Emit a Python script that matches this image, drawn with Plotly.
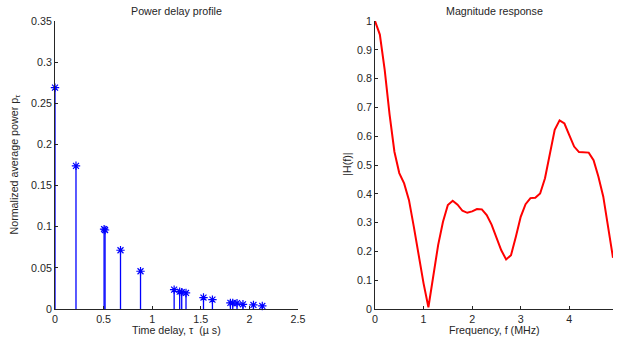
import plotly.graph_objects as go

# ---- data: power delay profile ----
delays_us = [0.0, 0.216, 0.505, 0.515, 0.674, 0.880, 1.226, 1.283, 1.304, 1.348,
             1.528, 1.620, 1.805, 1.829, 1.873, 1.934, 2.042, 2.133]
powers = [0.269, 0.174, 0.097, 0.096, 0.0714, 0.0459, 0.0236, 0.021, 0.0205, 0.0195,
          0.0139, 0.0114, 0.0075, 0.0073, 0.0071, 0.0057, 0.0049, 0.0037]

# ---- data: magnitude response ----
freq_mhz = [0.0, 0.1, 0.2, 0.3, 0.4, 0.5, 0.6, 0.7, 0.8, 0.9,
            1.0, 1.1, 1.2, 1.3, 1.4, 1.5, 1.6, 1.7, 1.8, 1.9,
            2.0, 2.1, 2.2, 2.3, 2.4, 2.5, 2.6, 2.7, 2.8, 2.9,
            3.0, 3.1, 3.2, 3.3, 3.4, 3.5, 3.6, 3.7, 3.8, 3.9,
            4.0, 4.1, 4.2, 4.3, 4.4, 4.5, 4.6, 4.7, 4.8, 4.9]
magnitude = [1.0, 0.953, 0.83, 0.676, 0.546, 0.472, 0.436, 0.378, 0.285, 0.181,
             0.089, 0.006, 0.122, 0.222, 0.303, 0.361, 0.376, 0.362, 0.341, 0.334,
             0.339, 0.347, 0.346, 0.326, 0.293, 0.25, 0.204, 0.172, 0.187, 0.251,
             0.32, 0.364, 0.385, 0.386, 0.401, 0.454, 0.541, 0.622, 0.655, 0.644,
             0.604, 0.564, 0.545, 0.545, 0.543, 0.517, 0.459, 0.39, 0.291, 0.178]

left_yticks = [0, 0.05, 0.1, 0.15, 0.2, 0.25, 0.3, 0.35]
left_yticktext = ["0", "0.05", "0.1", "0.15", "0.2", "0.25", "0.3", "0.35"]
left_xticks = [0, 0.5, 1, 1.5, 2, 2.5]
left_xticktext = ["0", "0.5", "1", "1.5", "2", "2.5"]
right_yticks = [0, 0.1, 0.2, 0.3, 0.4, 0.5, 0.6, 0.7, 0.8, 0.9, 1]
right_yticktext = ["0", "0.1", "0.2", "0.3", "0.4", "0.5", "0.6", "0.7", "0.8", "0.9", "1"]
right_xticks = [0, 1, 2, 3, 4]
right_xticktext = ["0", "1", "2", "3", "4"]

FONT = "Liberation Sans, Arial, sans-serif"
TXT = "#262626"
FS = 10.7

# stem lines built from data
stem_x, stem_y = [], []
for t, p in zip(delays_us, powers):
    stem_x += [t, t, None]
    stem_y += [0, p, None]

fig = go.Figure()
fig.add_trace(go.Scatter(x=stem_x, y=stem_y, mode="lines",
                         line=dict(color="#0000ff", width=1.3),
                         cliponaxis=False,
                         xaxis="x", yaxis="y", hoverinfo="skip", showlegend=False))
fig.add_trace(go.Scatter(x=delays_us, y=powers, mode="markers",
                         marker=dict(symbol="asterisk-open", size=7,
                                     color="#0000ff",
                                     line=dict(color="#0000ff", width=1.2)),
                         cliponaxis=False,
                         xaxis="x", yaxis="y", showlegend=False))
fig.add_trace(go.Scatter(x=freq_mhz, y=magnitude, mode="lines",
                         line=dict(color="#ff0000", width=2),
                         cliponaxis=False,
                         xaxis="x2", yaxis="y2", showlegend=False))

W, H = 622, 342
ml, mr, mt, mb = 55, 2, 21, 33
pw = W - ml - mr
d1 = (301 - ml) / pw
d2 = (379 - ml) / pw

axis_common = dict(showgrid=False, zeroline=False, showline=True,
                   linecolor="#262626", linewidth=1, ticks="inside",
                   ticklen=3, tickcolor="#262626", mirror=False,
                   tickfont=dict(family=FONT, size=FS, color=TXT))

fig.update_layout(
    width=W, height=H,
    margin=dict(l=ml, r=mr, t=mt, b=mb),
    paper_bgcolor="white", plot_bgcolor="white",
    showlegend=False,
    xaxis=dict(domain=[0, d1], range=[0, 2.5], tickvals=left_xticks,
               ticktext=left_xticktext, anchor="y", **axis_common),
    yaxis=dict(domain=[0, 1], range=[0, 0.35], tickvals=left_yticks,
               ticktext=left_yticktext, anchor="x", **axis_common),
    xaxis2=dict(domain=[d2, 1], range=[0, 4.9], tickvals=right_xticks,
                ticktext=right_xticktext, anchor="y2", **axis_common),
    yaxis2=dict(domain=[0, 1], range=[0, 1], tickvals=right_yticks,
                ticktext=right_yticktext, anchor="x2", **axis_common),
)

def ann(text, x, y, angle=0):
    fig.add_annotation(text=text, xref="paper", yref="paper",
                       x=(x - ml) / pw, y=1 - (y - mt) / (H - mt - mb),
                       xanchor="center", yanchor="middle", showarrow=False,
                       textangle=angle,
                       font=dict(family=FONT, size=FS, color=TXT))

ann("Power delay profile", 178, 10.5)
ann("Magnitude response", 500, 10.5)
ann("Time delay, τ  (µ s)", 178, 330)
ann("Frequency, f (MHz)", 500, 330)
ann("Normalized average power p<sub>τ</sub>", 14, 165, -90)
ann("|H(f)|", 350.5, 164, -90)

fig.write_html("out.html")
